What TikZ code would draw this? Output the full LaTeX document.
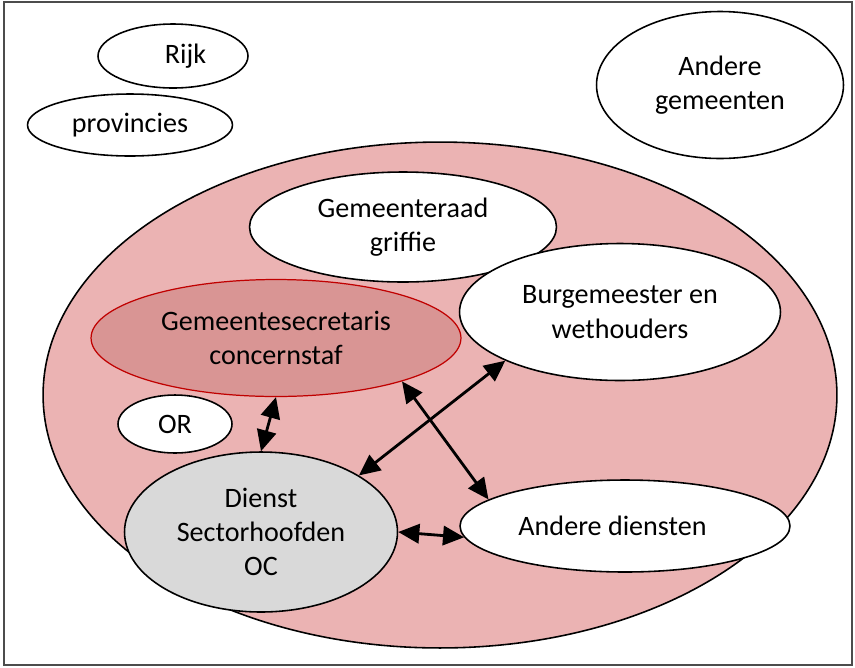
\documentclass[tikz,border=0pt]{standalone}
\usepackage{fontspec}
\setmainfont{Carlito}
\usetikzlibrary{shapes.geometric, arrows.meta}
\definecolor{gemeentefill}{RGB}{235,179,179}
\definecolor{secrfill}{RGB}{217,149,148}
\definecolor{secrline}{RGB}{192,0,0}
\definecolor{dienstfill}{RGB}{217,217,217}
\tikzset{
  font=\fontsize{16}{19.5}\selectfont,
  % Set arrowhead
  >={Triangle[length=12pt, width=11pt]},
  % General organ node
  onode/.style={draw, line width=0.9pt, fill=white, shape=ellipse,
    inner sep=0pt, align=center},
  % Secretary node
  snode/.style={onode, draw=secrline, fill=secrfill, line width=0.7pt},
  % Service node
  dnode/.style={onode, fill=dienstfill},
  % Relation arrows
  rel/.style={<->, line width=1.6pt},
}
\begin{document}
\begin{tikzpicture}[x=0.02cm, y=-0.02cm]
  \useasboundingbox (0,0) rectangle (855,667);
  \draw[line width=1pt, black!70] (4,2) rectangle (852,665);

  % outside the gemeente
  \node[onode, minimum width=3cm, minimum height=1.28cm] (rijk) at (173,56) {\hspace*{0.5cm}Rijk};
  \node[onode, minimum width=4.1cm, minimum height=1.24cm] (prov) at (130,125) {provincies};
  \node[onode, minimum width=4.94cm, minimum height=2.94cm] (andgem) at (720,85) {Andere\\gemeenten};

  % the gemeente itself
  \node[onode, fill=gemeentefill, minimum width=15.88cm, minimum height=10.12cm] (gemeente) at (440,395) {};

  \node[onode, minimum width=6.14cm, minimum height=2.2cm] (raad) at (403,227) {Gemeenteraad\\griffie};
  \node[onode, minimum width=6.42cm, minimum height=2.74cm] (bw) at (620,312) {Burgemeester en\\wethouders};
  \node[snode, minimum width=7.4cm, minimum height=2.34cm] (secr) at (276,338) {Gemeentesecretaris\\concernstaf};
  \node[onode, minimum width=2.28cm, minimum height=1.16cm] (or) at (175,424) {OR};
  \node[dnode, minimum width=5.46cm, minimum height=3.2cm] (dienst) at (261,532) {Dienst\\Sectorhoofden\\OC};
  \node[onode, minimum width=6.6cm, minimum height=1.84cm] (anddienst) at (625,526) {Andere diensten\hspace*{0.5cm}};

  \draw[rel] (secr.south) -- (dienst.north);
  \draw[rel] (secr.-19) -- (anddienst.169);
  \draw[rel] (bw.203) -- (dienst.30);
  \draw[rel] (dienst.east) -- (anddienst.184);
\end{tikzpicture}
\end{document}
